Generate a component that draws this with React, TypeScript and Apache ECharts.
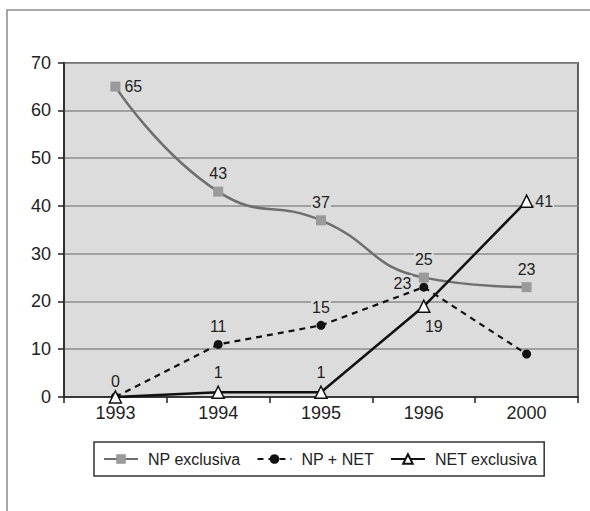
import React, { useEffect, useRef } from "react";
import * as echarts from "echarts";

const categories = ["1993", "1994", "1995", "1996", "2000"];
const npExclusiva = [65, 43, 37, 25, 23];
const npNet = [0, 11, 15, 23, 9];
const netExclusiva = [0, 1, 1, 19, 41];
const yTicks = { min: 0, max: 70, interval: 10 };

const FONT = "Liberation Sans, Arial, sans-serif";
const PLOT_BG = "#dcdcdc";

function lbl(position: any, offset?: number[], show = true) {
  return {
    show,
    position,
    offset: offset || [0, 0],
    fontSize: 16,
    fontFamily: FONT,
    color: "#222",
    backgroundColor: PLOT_BG,
    padding: [0, 1],
  };
}

export default function App() {
  const ref = useRef<HTMLDivElement>(null);
  useEffect(() => {
    const chart = echarts.init(ref.current!, null, { renderer: "svg" });
    const npLabels = [lbl("right", [-2, 0]), lbl("top"), lbl("top"), lbl("top"), lbl("top")];
    const npNetLabels = [lbl("top", [0, 2]), lbl("top"), lbl("top"), lbl("left", [-2, -4]), lbl("top", [0, 0], false)];
    const netLabels = [lbl("top", [0, 0], false), lbl("top"), lbl("top"), lbl("bottom", [10, 0]), lbl("right", [-4, 0])];
    chart.setOption({
      animation: false,
      backgroundColor: "#ffffff",
      textStyle: { fontFamily: FONT },
      graphic: [
        {
          type: "rect",
          shape: { x: 7, y: 10, width: 620, height: 540 },
          style: { fill: "none", stroke: "#8a8a8a", lineWidth: 1.5 },
          silent: true,
        },
      ],
      grid: {
        left: 64,
        right: 12,
        top: 62.7,
        bottom: 114,
        show: true,
        backgroundColor: PLOT_BG,
        borderColor: "#333",
        borderWidth: 1.5,
      },
      legend: {
        left: 94,
        top: 442,
        padding: [9, 7, 9, 9],
        borderColor: "#333",
        borderWidth: 1.5,
        backgroundColor: "#fff",
        itemWidth: 34,
        itemHeight: 12,
        itemGap: 16,
        textStyle: { fontSize: 16, fontFamily: FONT, color: "#222", padding: [0, 0, 0, 5] },
        data: ["NP exclusiva", "NP + NET", "NET exclusiva"],
      },
      xAxis: {
        type: "category",
        data: categories,
        boundaryGap: true,
        axisLine: { lineStyle: { color: "#222", width: 1.5 } },
        axisTick: { show: true, length: 6, inside: false, lineStyle: { color: "#222", width: 1.5 } },
        axisLabel: { fontSize: 18, fontFamily: FONT, color: "#222", margin: 7 },
        splitLine: { show: false },
      },
      yAxis: {
        type: "value",
        min: yTicks.min,
        max: yTicks.max,
        interval: yTicks.interval,
        axisLine: { show: true, lineStyle: { color: "#222", width: 1.5 } },
        axisTick: { show: true, length: 6, inside: false, lineStyle: { color: "#222", width: 1.5 } },
        axisLabel: { fontSize: 18, fontFamily: FONT, color: "#222", margin: 13 },
        splitLine: { show: true, lineStyle: { color: "#8c8c8c", width: 1.5 } },
      },
      series: [
        {
          name: "NP exclusiva",
          type: "line",
          smooth: 0.5,
          data: npExclusiva.map((v, i) => ({ value: v, label: npLabels[i] })),
          symbol: "rect",
          symbolSize: 10,
          lineStyle: { color: "#6e6e6e", width: 2.5 },
          itemStyle: { color: "#9a9a9a", borderWidth: 0 },
          z: 3,
        },
        {
          name: "NP + NET",
          type: "line",
          smooth: false,
          data: npNet.map((v, i) => ({ value: v, label: npNetLabels[i] })),
          symbol: "circle",
          symbolSize: 9,
          lineStyle: { color: "#111", width: 2.2, type: [6, 5] },
          itemStyle: { color: "#111", borderWidth: 0 },
          z: 4,
        },
        {
          name: "NET exclusiva",
          type: "line",
          smooth: false,
          data: netExclusiva.map((v, i) => ({ value: v, label: netLabels[i] })),
          symbol: "triangle",
          symbolSize: 12,
          lineStyle: { color: "#111", width: 2.5 },
          itemStyle: { color: "#fff", borderColor: "#111", borderWidth: 1.5 },
          z: 5,
        },
      ],
    });
    return () => chart.dispose();
  }, []);
  return (
    <div
      ref={ref}
      style={{ position: "fixed", left: 0, top: 0, width: 590, height: 511 }}
    />
  );
}
